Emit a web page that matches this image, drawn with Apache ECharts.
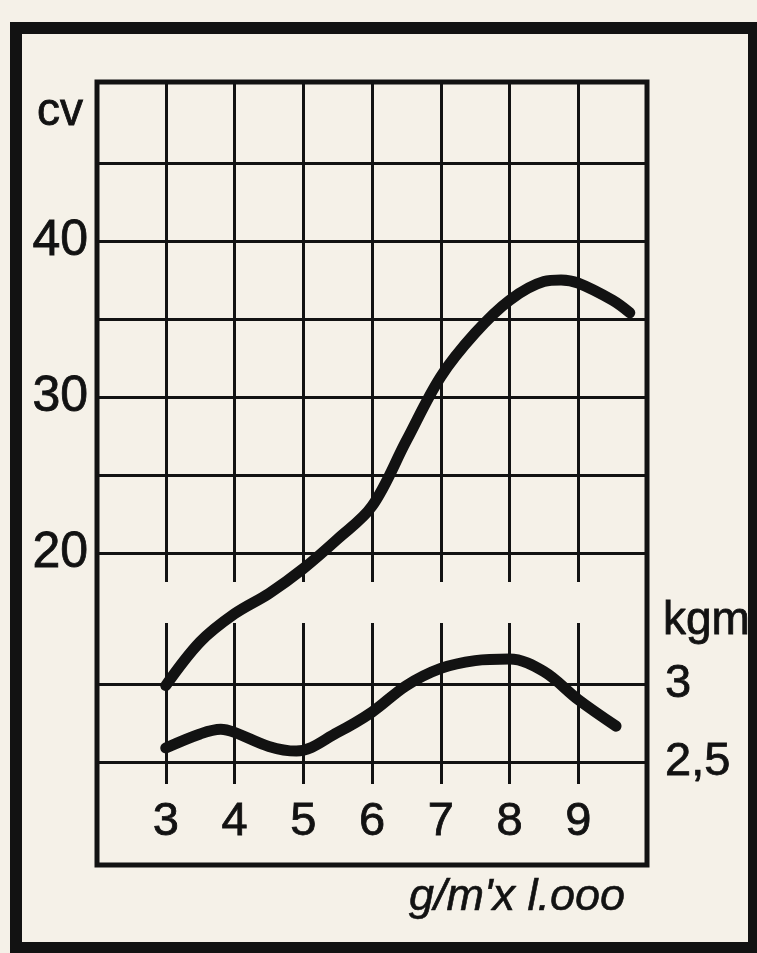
<!DOCTYPE html>
<html>
<head>
<meta charset="utf-8">
<script src="https://cdn.jsdelivr.net/npm/echarts@6/dist/echarts.min.js"></script>
<style>
html,body{margin:0;padding:0;background:#f5f1e8;}
#chart{width:757px;height:953px;}
</style>
</head>
<body>
<div id="chart"></div>
<script>
// ---- data ----
const rpmCv = [3, 3.5, 4, 4.5, 5, 5.5, 6, 6.5, 7, 7.5, 8, 8.5, 8.75, 9, 9.5, 9.75];
const cvValues = [11.5, 14.3, 16.1, 17.4, 19.0, 20.9, 23.0, 27.2, 31.3, 34.1, 36.2, 37.4, 37.5, 37.3, 36.2, 35.4];
const rpmKgm = [3, 3.5, 3.8, 4, 4.5, 4.9, 5.5, 6, 6.5, 7, 7.5, 8, 8.5, 9, 9.55];
const kgmValues = [2.59, 2.68, 2.71, 2.69, 2.60, 2.57, 2.69, 2.82, 2.99, 3.10, 3.15, 3.16, 3.08, 2.90, 2.73];
const xTickLabels = [3, 4, 5, 6, 7, 8, 9];
const cvTickLabels = [20, 30, 40];
const kgmTickLabels = [2.5, 3];
const cvName = 'cv';
const kgmName = 'kgm';
const xName = "g/m'x l.ooo";

const INK = '#121212';
const FONT = 'Liberation Sans';

const chart = echarts.init(document.getElementById('chart'), null, {renderer: 'canvas'});

const thick = {textBorderColor: INK, textBorderWidth: 0.8};
const hiddenY = {type: 'value', show: false, min: 0, max: 1};
const vertX = (gi, labels) => ({
  type: 'value', gridIndex: gi, min: 2, max: 10, interval: 1,
  axisLine: {show: false}, axisTick: {show: false},
  axisLabel: labels ? Object.assign({
    show: true, margin: 15, fontSize: 47, color: INK, fontFamily: FONT,
    formatter: v => xTickLabels.includes(v) ? String(v) : ''
  }, thick) : {show: false},
  splitLine: {show: true, showMinLine: false, showMaxLine: false, lineStyle: {color: INK, width: 3}}
});

const option = {
  backgroundColor: '#f5f1e8',
  animation: false,
  grid: [
    {left: 97, top: 85, width: 550, height: 468},   // 0: cv horizontals
    {left: 97, top: 82, width: 550, height: 500},   // 1: upper verticals
    {left: 97, top: 606, width: 550, height: 156},  // 2: kgm horizontals
    {left: 97, top: 623, width: 550, height: 161}   // 3: lower verticals + x labels
  ],
  xAxis: [
    {type: 'value', gridIndex: 0, min: 2, max: 10, interval: 1, show: false},
    vertX(1, false),
    {type: 'value', gridIndex: 2, min: 2, max: 10, interval: 1, show: false},
    vertX(3, true)
  ],
  yAxis: [
    {
      type: 'value', gridIndex: 0, min: 20, max: 50, interval: 5,
      axisLine: {show: false}, axisTick: {show: false},
      axisLabel: Object.assign({
        margin: 9, fontSize: 50, color: INK, fontFamily: FONT,
        formatter: v => cvTickLabels.includes(v) ? String(v) : ''
      }, thick),
      splitLine: {show: true, showMinLine: true, showMaxLine: false, lineStyle: {color: INK, width: 3}}
    },
    Object.assign({gridIndex: 1}, hiddenY),
    {
      type: 'value', gridIndex: 2, position: 'right', min: 2.5, max: 3.5, interval: 0.5,
      axisLine: {show: false}, axisTick: {show: false},
      axisLabel: Object.assign({
        margin: 18, fontSize: 47, color: INK, fontFamily: FONT,
        formatter: v => kgmTickLabels.includes(v) ? String(v).replace('.', ',') : ''
      }, thick),
      splitLine: {show: true, showMinLine: true, showMaxLine: false, lineStyle: {color: INK, width: 3}}
    },
    Object.assign({gridIndex: 3}, hiddenY)
  ],
  series: [
    {
      name: cvName, type: 'line', xAxisIndex: 0, yAxisIndex: 0,
      data: rpmCv.map((x, i) => [x, cvValues[i]]),
      smooth: 0.35, symbol: 'none', clip: false, z: 10,
      lineStyle: {color: INK, width: 11, cap: 'round', join: 'round'}
    },
    {
      name: kgmName, type: 'line', xAxisIndex: 2, yAxisIndex: 2,
      data: rpmKgm.map((x, i) => [x, kgmValues[i]]),
      smooth: 0.35, symbol: 'none', clip: false, z: 10,
      lineStyle: {color: INK, width: 11, cap: 'round', join: 'round'}
    }
  ],
  graphic: [
    {type: 'rect', z: 50, shape: {x: 16, y: 28, width: 738, height: 920},
     style: {fill: 'none', stroke: INK, lineWidth: 12}},
    {type: 'rect', z: 50, shape: {x: 97, y: 82, width: 550, height: 783},
     style: {fill: 'none', stroke: INK, lineWidth: 5}},
    {type: 'text', z: 50, x: 60, y: 112,
     style: {text: cvName, font: '46px "Liberation Sans"', fill: INK, stroke: INK, lineWidth: 0.8, textAlign: 'center', textVerticalAlign: 'middle'}},
    {type: 'text', z: 50, x: 663, y: 621,
     style: {text: kgmName, font: '46px "Liberation Sans"', fill: INK, stroke: INK, lineWidth: 0.8, textAlign: 'left', textVerticalAlign: 'middle'}},
    {type: 'text', z: 50, x: 517, y: 897,
     style: {text: xName, font: 'italic 45px "Liberation Sans"', fill: INK, stroke: INK, lineWidth: 0.6, textAlign: 'center', textVerticalAlign: 'middle'}}
  ]
};
chart.setOption(option);
</script>
</body>
</html>
